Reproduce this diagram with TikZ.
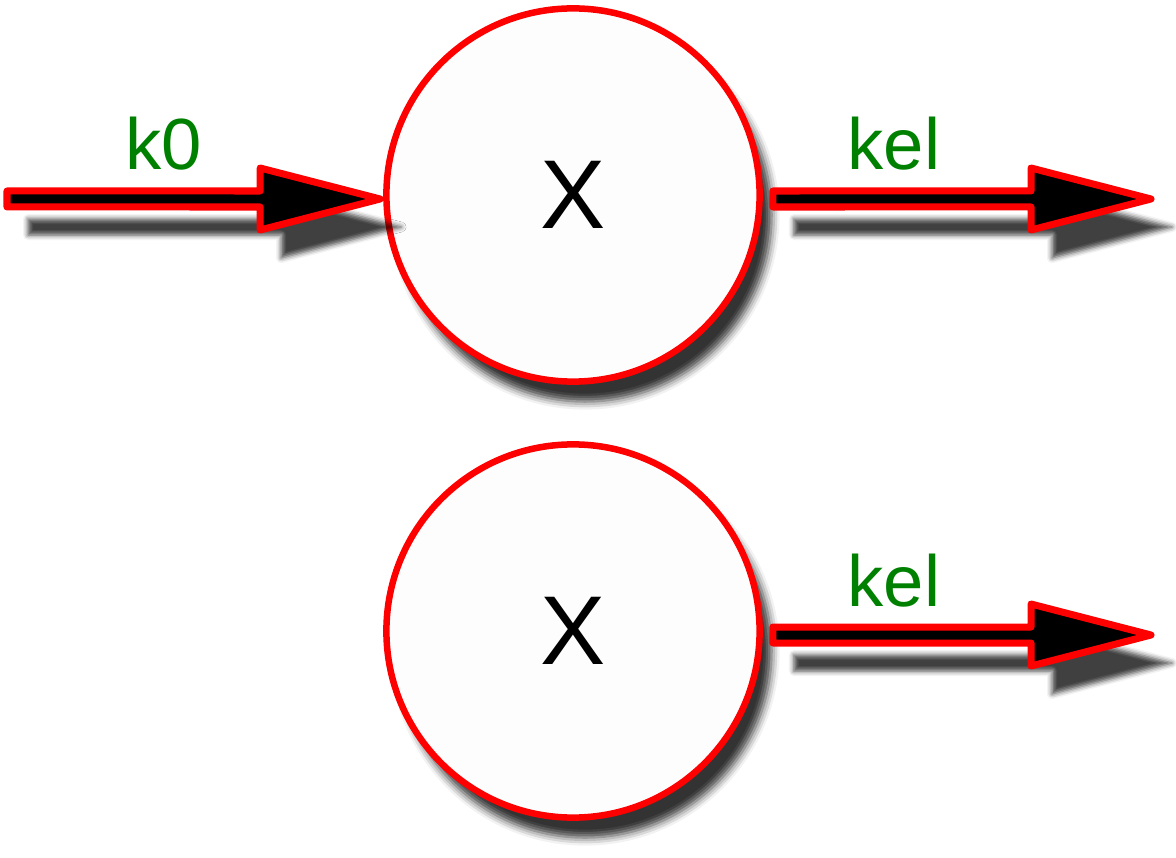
\documentclass[tikz,border=0pt]{standalone}
\usepackage{fontspec}
\setmainfont{Liberation Sans}
\usetikzlibrary{calc, shadows.blur}

\definecolor{labelgreen}{RGB}{0,128,0}

% block arrow from #1 to #2 (horizontal)
\newcommand{\flowarrow}[2]{%
  \draw[flow] ($(#1)+(0,-8)$) -- ($(#2)+(-120,-8)$) -- ($(#2)+(-120,-31)$)
    -- (#2) -- ($(#2)+(-120,31)$) -- ($(#2)+(-120,8)$) -- ($(#1)+(0,8)$) -- cycle;}

\begin{document}
\begin{tikzpicture}[
        x=0.01cm, y=-0.01cm,
        state/.style={circle, draw=red, fill=black!0.6, line width=0.065cm, minimum size=3.73cm, inner sep=0pt,
            font=\fontsize{27.8}{30}\selectfont,
            blur shadow={shadow xshift=0.12cm, shadow yshift=-0.2cm, shadow blur radius=0.08cm, shadow opacity=80}},
        flow/.style={draw=red, fill=black, line width=0.07cm, line join=round,
            blur shadow={shadow xshift=0.21cm, shadow yshift=-0.28cm, shadow blur radius=0.05cm, shadow opacity=75}},
        lbl/.style={text=labelgreen, anchor=base, inner sep=0pt, font=\fontsize{20.6}{24}\selectfont}
        ]
        \useasboundingbox (0,0) rectangle (1176,858);

        \node[state] (xtop) at (573,195) {X};
        \node[state] (xbot) at (573,631) {X};

        \coordinate (in) at (7,199);
        \coordinate (out1) at (1151,199);
        \coordinate (out2) at (1151,635);

        \flowarrow{in}{[xshift=-0.03cm,yshift=-0.04cm]xtop.west}
        \flowarrow{[xshift=0.1cm,yshift=-0.04cm]xtop.east}{out1}
        \flowarrow{[xshift=0.1cm,yshift=-0.04cm]xbot.east}{out2}

        \node[lbl] (k0) at (164,170) {k0};
        \node[lbl] (kel1) at (894,170) {kel};
        \node[lbl] (kel2) at (894,606) {kel};
    \end{tikzpicture}
\end{document}
